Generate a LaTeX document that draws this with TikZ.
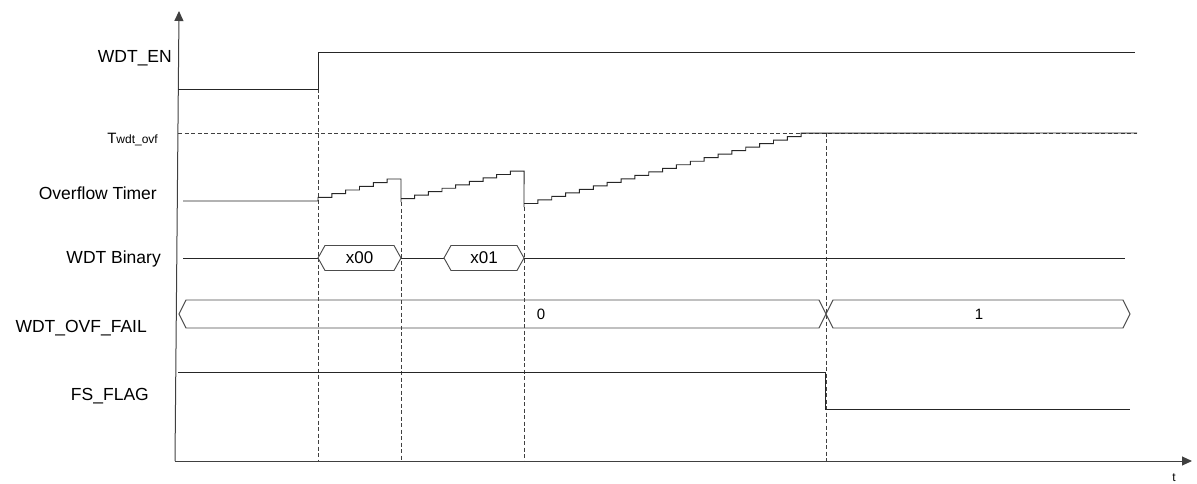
\documentclass[tikz,border=0pt]{standalone}
\usepackage{fontspec}
\setmainfont{Liberation Sans}
\usetikzlibrary{arrows.meta}

\begin{document}
\begin{tikzpicture}[x=1pt, y=-1pt, >={Triangle[length=10pt,width=9pt]},
  sig/.style={line width=0.95pt, black!85},
  bus/.style={line width=0.95pt, black!70},
  guide/.style={dash pattern=on 4pt off 2.5pt, line width=0.9pt, black!75},
  lbl/.style={anchor=base east, inner sep=0pt, font=\fontsize{17.5}{20}\selectfont},
  val/.style={inner sep=0pt, font=\fontsize{17}{19}\selectfont}
]
  \useasboundingbox (0,0) rectangle (1197,484);

  % axes
  \coordinate (o) at (175,461);
  \coordinate (ytop) at (179,11);
  \coordinate (xend) at (1192,461);
  \draw[->, line width=1pt, black!75] (o) -- (ytop);
  \draw[->, line width=1pt, black!75] (o) -- (xend);
  \node[inner sep=0pt, font=\fontsize{12}{14}\selectfont] (tlbl) at (1174,478) {t};

  % signal names on the left
  \node[lbl] (nEN) at (172,63) {WDT\_EN};
  \node[lbl, font=\fontsize{15}{18}\selectfont] (nTovf) at (158,143)
    {T{\fontsize{12}{12}\selectfont wdt\_ovf}};
  \node[lbl] (nTimer) at (157,200) {Overflow Timer};
  \node[lbl] (nBin) at (161,263) {WDT Binary};
  \node[lbl] (nFail) at (147,332) {WDT\_OVF\_FAIL};
  \node[lbl] (nFlag) at (149,400) {FS\_FLAG};

  % threshold and event guides
  \draw[guide] (178,133) -- (1137,133);
  \foreach \x/\y in {318/89, 401/202, 524/207, 826/133}
    \draw[guide] (\x,\y) -- (\x,461);

  % WDT_EN
  \draw[sig] (178,89) -- (318,89) -- (318,52) -- (1135,52);

  % overflow timer, three ramps
  \draw[sig] (183,201) -- (318,201)
    foreach \i in {1,...,6} {-- ++(0,-3.67) -- ++(13.83,0)} -- (401,202)
    foreach \i in {1,...,9} {-- ++(0,-3.44) -- ++(13.67,0)} -- (524,207)
    foreach \i in {1,...,21} {-- ++(0,-3.52) -- ++(13.86,0)} -- (1137,133);

  % WDT Binary
  \draw[sig] (183,258) -- (318,258);
  \draw[sig] (401,258) -- (444,258);
  \draw[sig] (524,258) -- (1125,258);
  \foreach \a/\b/\txt/\n in {318/401/x00/b0, 444/524/x01/b1} {
    \draw[bus] (\a,258) -- (\a+7,245.5) -- (\b-7,245.5) -- (\b,258)
      -- (\b-7,270.5) -- (\a+7,270.5) -- cycle;
    \node[val] (\n) at ({(\a+\b)/2},258) {\txt};
  }

  % WDT_OVF_FAIL
  \draw[bus] (179,314) -- (186,300) -- (819,300) -- (833,328) -- (1123,328)
    -- (1130,314) -- (1123,300) -- (833,300) -- (819,328) -- (186,328) -- cycle;
  \node[val, font=\fontsize{15}{17}\selectfont] (f0) at (541,314) {0};
  \node[val, font=\fontsize{15}{17}\selectfont] (f1) at (979,314) {1};

  % FS_FLAG
  \draw[sig] (178,372) -- (825,372) -- (825,409) -- (1130,409);
\end{tikzpicture}
\end{document}
